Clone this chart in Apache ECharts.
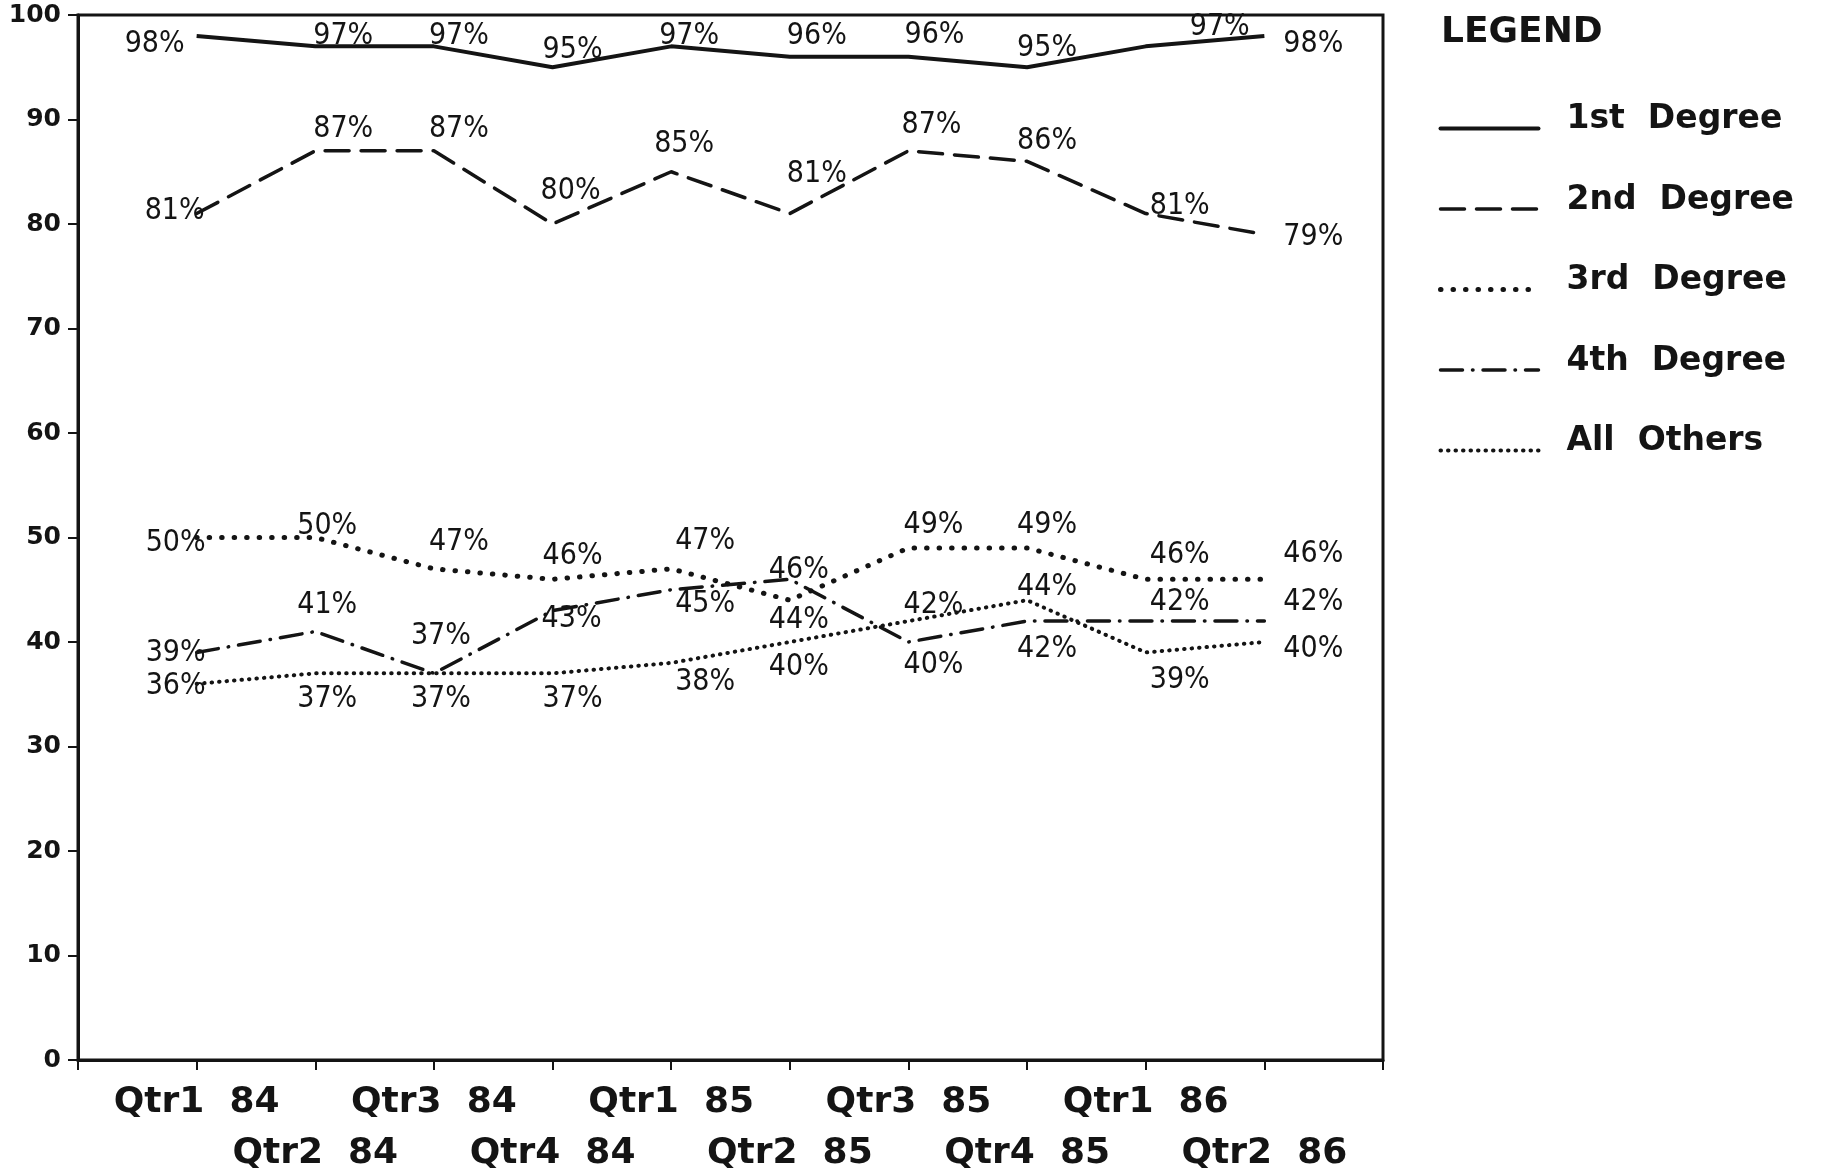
<!DOCTYPE html>
<html>
<head>
<meta charset="utf-8">
<script src="https://cdn.jsdelivr.net/npm/echarts@6/dist/echarts.min.js"></script>
<style>
html,body{margin:0;padding:0;background:#fff;}
#chart{width:1836px;height:1170px;}
</style>
</head>
<body>
<div id="chart"></div>
<script>
// ---- data ----
const categories = ['Qtr1 84','Qtr2 84','Qtr3 84','Qtr4 84','Qtr1 85','Qtr2 85','Qtr3 85','Qtr4 85','Qtr1 86','Qtr2 86'];
const seriesNames = ['1st Degree','2nd Degree','3rd Degree','4th Degree','All Others'];
const firstDegree  = [98, 97, 97, 95, 97, 96, 96, 95, 97, 98];
const secondDegree = [81, 87, 87, 80, 85, 81, 87, 86, 81, 79];
const thirdDegree  = [50, 50, 47, 46, 47, 44, 49, 49, 46, 46];
const fourthDegree = [39, 41, 37, 43, 45, 46, 40, 42, 42, 42];
const allOthers    = [36, 37, 37, 37, 38, 40, 42, 44, 39, 40];
const yTicks = [0, 10, 20, 30, 40, 50, 60, 70, 80, 90, 100];

// ---- label placement (pixel offsets from each point) ----
const offFirst  = [[-42,8],[28,-10],[25,-10],[20,-17],[18,-10],[27,-21],[26,-22],[20,-19],[74,-19],[49,8]];
const offSecond = [[-22,-2],[28,-22],[25,-22],[18,-33],[13,-28],[27,-39],[23,-26],[20,-20],[34,-7],[49,3]];
const offThird  = [[-21,6],[12,-11],[25,-27],[20,-23],[34,-28],[9,20],[25,-23],[20,-23],[34,-24],[49,-25]];
const offFourth = [[-21,1],[12,-26],[7,-37],[19,9],[34,14],[9,-9],[25,23],[20,28],[34,-19],[49,-19]];
const offOthers = [[-21,2],[12,26],[7,26],[20,26],[34,19],[9,25],[25,-16],[20,-13],[34,28],[49,7]];

const INK = '#141414';
const labelFont = "'Liberation Sans Narrow','DejaVu Sans Condensed','Liberation Sans',sans-serif";
const boldFont = "'DejaVu Sans',sans-serif";

function buildData(values, offsets) {
  return values.map((v, i) => ({
    value: [i + 1, v],
    label: { offset: offsets[i] }
  }));
}

function makeSeries(name, values, offsets, lineStyle) {
  return {
    name: name,
    type: 'line',
    data: buildData(values, offsets),
    symbol: 'circle',
    symbolSize: 2,
    itemStyle: { color: 'rgba(0,0,0,0)' },
    lineStyle: Object.assign({ color: INK, width: 3.5 }, lineStyle),
    label: {
      show: true,
      position: 'inside',
      align: 'center',
      verticalAlign: 'middle',
      color: INK,
      fontFamily: labelFont,
      fontSize: 30,
      formatter: p => p.value[1] + '%'
    },
    emphasis: { disabled: true },
    animation: false
  };
}

const chart = echarts.init(document.getElementById('chart'), null, { renderer: 'canvas' });
chart.setOption({
  backgroundColor: '#fff',
  animation: false,
  title: {
    text: 'LEGEND',
    left: 1441,
    top: 15,
    padding: 0,
    textStyle: { fontFamily: boldFont, fontWeight: 'bold', fontSize: 36, color: INK }
  },
  legend: {
    orient: 'vertical',
    left: 1438,
    top: 103,
    padding: 0,
    itemWidth: 98,
    itemHeight: 30,
    itemGap: 35,
    data: seriesNames,
    itemStyle: { color: 'rgba(0,0,0,0)', borderWidth: 0 },
    lineStyle: { width: 'inherit', cap: 'round' },
    formatter: n => '{t|' + n.replace(' ', '  ') + '}\n{s| }',
    textStyle: {
      fontFamily: boldFont, fontWeight: 'bold', fontSize: 33, color: INK,
      padding: [0, 0, 0, 23],
      rich: {
        t: { fontFamily: boldFont, fontWeight: 'bold', fontSize: 33, color: INK, lineHeight: 30 },
        s: { fontSize: 10, lineHeight: 18 }
      }
    }
  },
  grid: {
    left: 78, right: 453, top: 15, bottom: 110,
    outerBoundsMode: 'none',
    show: true, borderColor: INK, borderWidth: 3, containLabel: false
  },
  xAxis: {
    type: 'value',
    min: 0, max: categories.length + 1, interval: 1,
    splitLine: { show: false },
    axisLine: { lineStyle: { color: INK, width: 3 } },
    axisTick: { show: true, length: 10, lineStyle: { color: INK, width: 2 } },
    axisLabel: {
      margin: 17,
      color: INK,
      fontFamily: boldFont, fontWeight: 'bold', fontSize: 36, lineHeight: 51,
      verticalAlign: 'top',
      showMinLabel: true, showMaxLabel: true,
      formatter: v => {
        const i = Math.round(v) - 1;
        if (i < 0 || i >= categories.length) return '';
        const t = categories[i].replace(' ', '  ');
        return i % 2 === 0 ? t : '\n' + t;
      }
    }
  },
  yAxis: {
    type: 'value',
    min: yTicks[0], max: yTicks[yTicks.length - 1], interval: 10,
    splitLine: { show: false },
    axisLine: { show: true, lineStyle: { color: INK, width: 3 } },
    axisTick: { show: true, length: 10, lineStyle: { color: INK, width: 2 } },
    axisLabel: {
      margin: 17, color: INK,
      fontFamily: boldFont, fontWeight: 'bold', fontSize: 25
    }
  },
  series: [
    makeSeries(seriesNames[0], firstDegree, offFirst, { type: 'solid', width: 4 }),
    makeSeries(seriesNames[1], secondDegree, offSecond, { type: [24, 12], cap: 'round' }),
    makeSeries(seriesNames[2], thirdDegree, offThird, { type: [0.5, 12], cap: 'round', width: 5 }),
    makeSeries(seriesNames[3], fourthDegree, offFourth, { type: [22, 10, 0.5, 10], cap: 'round' }),
    makeSeries(seriesNames[4], allOthers, offOthers, { type: [0.5, 7], cap: 'round', width: 4 })
  ]
});
</script>
</body>
</html>
